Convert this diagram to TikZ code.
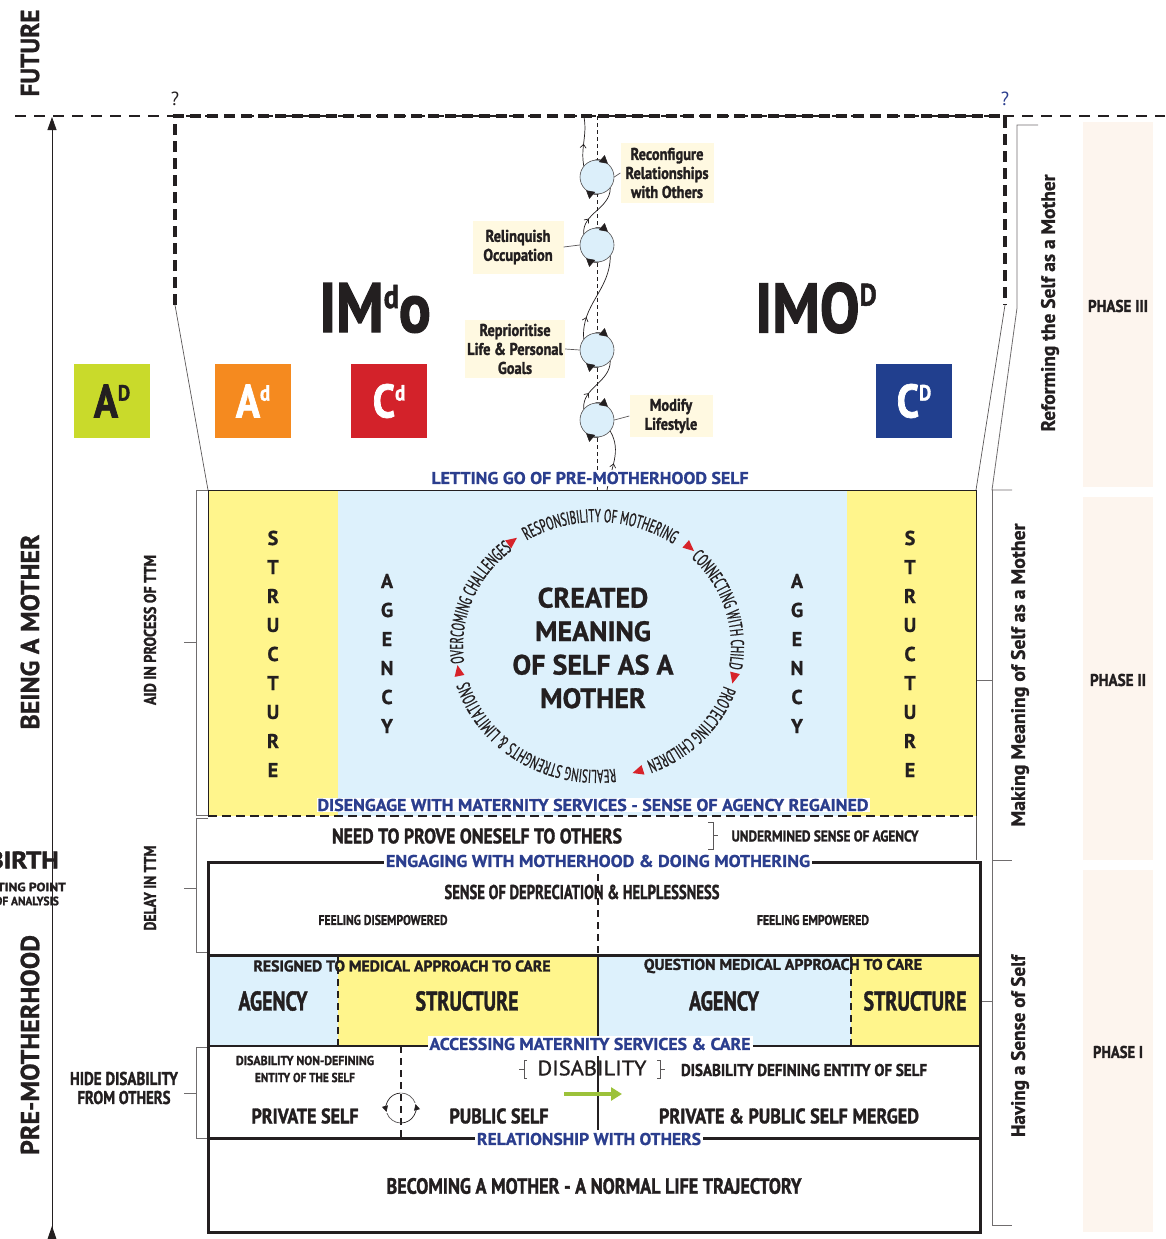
\documentclass[tikz,border=0pt]{standalone}
\usepackage{graphicx}
\usepackage{fontspec}
\setmainfont[BoldFeatures={FakeBold=1}]{PT Sans}
\newfontfamily\cnd[FakeStretch=0.85, BoldFeatures={FakeBold=1.5}]{PT Sans}
\newfontfamily\cndc[FakeStretch=0.58, FakeBold=0.9]{PT Sans}
\newfontfamily\med[FakeBold=1.2]{PT Sans}
\usetikzlibrary{arrows.meta,calc,decorations.text,decorations.markings}
\pgfdeclarelayer{bg}
\pgfsetlayers{bg,main}
\newcommand\fsz[1]{\fontsize{#1}{\fpeval{1.2*#1}}\selectfont}
\newcommand\fw[2]{\resizebox{#1pt}{\height}{#2}}
\newcommand\lettersq[2]{{\fsz{47}#1}\raisebox{17pt}{\fsz{22}#2}}

\definecolor{ylw}{HTML}{FFF58C}
\definecolor{lblue}{HTML}{DDF1FC}
\definecolor{dblue}{HTML}{2B3E8E}
\definecolor{peach}{HTML}{FDF5EE}
\definecolor{cream}{HTML}{FFF9E1}
\definecolor{cfill}{HTML}{DCEFFA}
\definecolor{lime}{HTML}{C9DA2B}
\definecolor{orng}{HTML}{F58A1F}
\definecolor{rd}{HTML}{D3222A}
\definecolor{navy}{HTML}{213F8E}
\definecolor{grn}{HTML}{9CC23A}
\definecolor{tri}{HTML}{D7232A}
\definecolor{ink}{HTML}{231F20}

\tikzset{
  cb/.style={font=\cnd\bfseries\fsz{#1}, text=ink, inner sep=0pt},
  hb/.style={font=\bfseries\fsz{#1}, text=ink, inner sep=0pt},
  lb/.style={font=\bfseries\fsz{#1}, text=dblue, fill=white, inner sep=2pt},
  sq/.style={minimum width=76, minimum height=74, inner sep=0pt, font=\cnd\bfseries},
  lbox/.style={fill=cream, font=\cnd\bfseries\fontsize{17}{19}\selectfont, align=center, inner sep=2pt, text=ink},
  spin/.style={circle, draw=ink!80, fill=cfill, minimum size=34, inner sep=0pt, line width=0.6},
  thinline/.style={ink!75, line width=0.7},
  bracketline/.style={ink!65, line width=0.8},
  heavy/.style={ink, line width=3},
  heavydash/.style={ink, line width=2.5, dash pattern=on 7 off 5},
  spiral/.style={ink, line width=0.7},
  midarrow/.style={postaction={decorate}, decoration={markings,
      mark=at position #1 with {\arrow{Straight Barb[length=3.5,width=6]}}}},
  arcword/.style={decorate, decoration={text along path, text align=center,
      text color=ink, text={|\cndc\fsz{18.5}|#1}}},
  spinhead/.style={ink, line width=0.6, -{Triangle[length=8,width=9]}},
  turnhead/.style={ink, line width=0.7, -{Triangle[length=6,width=6]}},
}

\begin{document}
\begin{tikzpicture}[x=1pt,y=1pt]
\useasboundingbox (0,0) rectangle (1165,-1239);
\clip (0,0) rectangle (1165,-1239);

% ---------- phase columns on the right ----------
\fill[peach] (1083,-122) rectangle (1153,-487);
\fill[peach] (1083,-497) rectangle (1153,-860);
\fill[peach] (1083,-870) rectangle (1153,-1232);
\node[cb=17] (ph3) at (1118,-306) {\fw{60}{PHASE III}};
\node[cb=17] (ph2) at (1118,-680) {\fw{56}{PHASE II}};
\node[cb=17] (ph1) at (1118,-1052) {\fw{50}{PHASE I}};

% ---------- future line and the open dashed frame ----------
\draw[ink, line width=2, dash pattern=on 11 off 8] (15,-116) -- (1165,-116);
\draw[ink, line width=3.2, dash pattern=on 11 off 6] (175,-305) -- (175,-116) -- (1005,-116) -- (1005,-305);
\draw[thinline] (175,-305) -- (208,-490);
\draw[thinline] (1005,-305) -- (976,-490);
\node[font=\fsz{19}, text=ink, inner sep=0pt] (q1) at (175,-99) {?};
\node[font=\fsz{19}, text=dblue, inner sep=0pt] (q2) at (1005,-99) {?};

% ---------- time axis ----------
\coordinate (tbot) at (52,-1239);
\coordinate (ttop) at (52,-117);
\draw[ink, line width=0.8, -{Triangle[length=13,width=9]}] (tbot) -- (ttop);
\fill[ink] (52,-1226) -- (47.5,-1239) -- (56.5,-1239) -- cycle;
\node[hb=26, rotate=90] (fut) at (30,-53) {\fw{87}{FUTURE}};
\node[hb=26, rotate=90] (bam) at (30,-632) {\fw{195}{BEING A MOTHER}};
\node[hb=26, rotate=90] (pmh) at (30,-1045) {\fw{220}{PRE-MOTHERHOOD}};
\node[cb=24, anchor=east] (birth) at (59,-860) {\fw{71}{BIRTH}};
\node[cb=12, anchor=east] (start1) at (66,-887) {\fw{98}{STARTING POINT}};
\node[cb=12, anchor=east] (start2) at (59,-901) {\fw{64}{OF ANALYSIS}};

% ---------- left brackets ----------
\draw[bracketline] (208,-490) -- (196,-490) -- (196,-815) -- (208,-815) (184,-642) -- (196,-642);
\draw[bracketline] (208,-818) -- (196,-818) -- (196,-952) -- (208,-952) (184,-888) -- (196,-888);
\draw[bracketline] (208,-1047) -- (196,-1047) -- (196,-1138) -- (208,-1138) (184,-1093) -- (196,-1093);
\node[cb=17, rotate=90] (aid) at (150,-630) {\fw{150}{AID IN PROCESS OF TTM}};
\node[cb=17, rotate=90] (delay) at (150,-888) {\fw{85}{DELAY IN TTM}};
\node[cb=18.5, align=center, font=\cnd\bfseries\fontsize{18.5}{19}\selectfont] (hide) at (124,-1088) {\fw{108}{HIDE DISABILITY}\\\fw{93}{FROM OTHERS}};

% ---------- right brackets ----------
\draw[bracketline] (1038,-125) -- (1017,-125) -- (1017,-308) -- (992,-490) -- (1012,-490);
\draw[bracketline] (992,-490) -- (992,-860) -- (1012,-860) (976,-680) -- (992,-680);
\draw[bracketline] (992,-860) -- (992,-1225) -- (1012,-1225) (980,-1001) -- (992,-1001);
\node[hb=19.5, rotate=90] (reform) at (1050,-303) {\fw{257}{Reforming the Self as a Mother}};
\node[hb=19.5, rotate=90] (making) at (1020,-675) {\fw{303}{Making Meaning of Self as a Mother}};
\node[hb=19.5, rotate=90] (having) at (1020,-1046) {\fw{182}{Having a Sense of Self}};

% ---------- coloured codes ----------
\node[sq, fill=lime, text=ink] (AD) at (112,-401) {\lettersq{A}{D}};
\node[sq, fill=orng, text=white] (Ad) at (253,-401) {\lettersq{A}{d}};
\node[sq, fill=rd, text=white] (Cd) at (389,-401) {\lettersq{C}{d}};
\node[sq, fill=navy, text=white] (CD) at (914,-401) {\lettersq{C}{D}};
\node[font=\cnd\bfseries, text=ink, inner sep=0pt] (imdo) at (375,-308) {\fsz{70}IM\raisebox{24pt}{\fsz{33}d}o};
\node[font=\cnd\bfseries, text=ink, inner sep=0pt] (imod) at (816,-308) {\fsz{70}IMO\raisebox{27pt}{\fsz{31}D}};

% ---------- spiral of change ----------
\draw[ink, line width=0.7, dash pattern=on 4 off 3] (597,-116) -- (597,-490);
\node[spin] (s1) at (597,-177) {};
\node[spin] (s2) at (597,-245) {};
\node[spin] (s3) at (597,-350) {};
\node[spin] (s4) at (597,-420) {};
\coordinate (sbot) at (607,-490);
\coordinate (stop) at (584,-117);
\begin{pgfonlayer}{bg}
\draw[spiral, midarrow=0.45] (sbot) to[out=80,in=-60] (s4.-40);
\draw[spiral, midarrow=0.3] (s4.140) to[out=95,in=-90] (s3.-40);
\draw[spiral, midarrow=0.25] (s3.140) to[out=95,in=-90] (s2.-40);
\draw[spiral, midarrow=0.3] (s2.140) to[out=95,in=-90] (s1.-40);
\draw[spiral, midarrow=0.45] (s1.140) to[out=100,in=-80] (stop);
\end{pgfonlayer}
\foreach \s in {s1,s2,s3,s4}{
  \draw[spinhead] (\s.95) arc[start angle=95, end angle=50, radius=17];
  \draw[spinhead] (\s.275) arc[start angle=275, end angle=230, radius=17];
}
\node[lbox, minimum width=93, minimum height=60] (r1) at (667,-173) {Reconfigure\\Relationships\\with Others};
\node[lbox, minimum width=91, minimum height=53] (r2) at (518,-247) {Relinquish\\Occupation};
\node[lbox, minimum width=100, minimum height=58] (r3) at (515,-349) {Reprioritise\\Life \& Personal\\Goals};
\node[lbox, minimum width=83, minimum height=42] (r4) at (671,-416) {Modify\\Lifestyle};
\draw[thinline] (s1.east) -- (r1.west);
\draw[thinline] (r2.east) -- (s2.west);
\draw[thinline] (r3.east) -- (s3.west);
\draw[thinline] (s4.east) -- (r4.west);

% ---------- phase II block ----------
\fill[ylw] (208,-490) rectangle (338,-816);
\fill[lblue] (338,-490) rectangle (847,-816);
\fill[ylw] (847,-490) rectangle (976,-816);
\draw[ink, line width=0.8] (208,-816) -- (208,-490) -- (976,-490) -- (976,-816);
\draw[ink, line width=2.5, dash pattern=on 9 off 5] (208,-816) -- (976,-816);
\foreach \ch [count=\i from 0] in {S,T,R,U,C,T,U,R,E}{
  \node[hb=20] (sl\i) at (273,-538-29*\i) {\ch};
  \node[hb=20] (sr\i) at (910,-538-29*\i) {\ch};
}
\foreach \ch [count=\i from 0] in {A,G,E,N,C,Y}{
  \node[hb=20] (al\i) at (387,-581-29*\i) {\ch};
  \node[hb=20] (ar\i) at (797,-581-29*\i) {\ch};
}
\node[font=\bfseries\fontsize{28}{33.5}\selectfont, align=center, text=ink] (meaning) at (593,-648) {CREATED\\MEANING\\OF SELF AS A\\MOTHER};
\coordinate (cc) at (597,-646);
\path[arcword={RESPONSIBILITY OF MOTHERING}] ($(cc)+(124:134 and 124)$) arc[start angle=124, end angle=53, x radius=134, y radius=124];
\path[arcword={CONNECTING WITH CHILD}] ($(cc)+(46:134 and 124)$) arc[start angle=46, end angle=-11, x radius=134, y radius=124];
\path[arcword={PROTECTING CHILDREN}] ($(cc)+(-17:134 and 124)$) arc[start angle=-17, end angle=-70, x radius=134, y radius=124];
\path[arcword={REALISING STRENGHTS {\&} LIMITATIONS}] ($(cc)+(-77:134 and 124)$) arc[start angle=-77, end angle=-169, x radius=134, y radius=124];
\path[arcword={OVERCOMING CHALLENGES}] ($(cc)+(187:134 and 124)$) arc[start angle=187, end angle=130, x radius=134, y radius=124];
\foreach \t in {127,49,-14,-73,191}{
  \fill[tri, shift={($(cc)+(\t:141 and 131)$)}, rotate=\t-90] (6,0) -- (-5,5) -- (-5,-5) -- cycle;
}
\node[lb=17] (letgo) at (590,-478) {\fw{317}{LETTING GO OF PRE-MOTHERHOOD SELF}};
\node[lb=17, inner sep=1pt] (diseng) at (593,-805) {\fw{551}{DISENGAGE WITH MATERNITY SERVICES - SENSE OF AGENCY REGAINED}};

% ---------- transition row ----------
\draw[thinline] (976,-816) -- (976,-860);
\node[cb=21] (need) at (477,-836) {\fw{290}{NEED TO PROVE ONESELF TO OTHERS}};
\draw[thinline] (708,-822) -- (713,-822) -- (713,-849) -- (708,-849) (713,-835.5) -- (718,-835.5);
\node[cb=15.5] (under) at (825,-836) {\fw{187}{UNDERMINED SENSE OF AGENCY}};

% ---------- phase I block ----------
\fill[lblue] (208,-955) rectangle (338,-1046);
\fill[ylw] (338,-955) rectangle (598,-1046);
\fill[lblue] (598,-955) rectangle (851,-1046);
\fill[ylw] (851,-955) rectangle (980,-1046);
\node[cb=20] (dep) at (582,-892) {\fw{275}{SENSE OF DEPRECIATION \& HELPLESSNESS}};
\node[cb=14] (fdis) at (383,-920) {\fw{129}{FEELING DISEMPOWERED}};
\node[cb=14] (femp) at (813,-920) {\fw{112}{FEELING EMPOWERED}};
\node[cb=15.5] (resig) at (402,-966) {\fw{297}{RESIGNED TO MEDICAL APPROACH TO CARE}};
\node[cb=15.5] (quest) at (783,-966) {\fw{278}{QUESTION MEDICAL APPROACH TO CARE}};
\node[cb=27] (ag1) at (273,-1001) {\fw{69}{AGENCY}};
\node[cb=27] (st1) at (467,-1001) {\fw{103}{STRUCTURE}};
\node[cb=27] (ag2) at (724,-1001) {\fw{70}{AGENCY}};
\node[cb=27] (st2) at (915,-1001) {\fw{103}{STRUCTURE}};
\draw[heavy] (208,-862) rectangle (980,-1232);
\draw[heavy] (208,-955) -- (980,-955);
\draw[ink, line width=1.5] (208,-1046) -- (980,-1046);
\draw[heavy] (208,-1138) -- (980,-1138);
\draw[heavydash] (598,-862) -- (598,-955);
\draw[ink, line width=2.5] (598,-955) -- (598,-1046);
\draw[heavydash] (338,-955) -- (338,-1046);
\draw[heavydash] (851,-955) -- (851,-1046);
\draw[heavydash] (401,-1046) -- (401,-1138);
\draw[ink, line width=2.5] (598,-1056) -- (598,-1130);
\node[cb=13, font=\cnd\bfseries\fontsize{13}{17}\selectfont, align=center] (ndef) at (305,-1069) {\fw{138}{DISABILITY NON-DEFINING}\\\fw{100}{ENTITY OF THE SELF}};
\node[cb=21] (priv) at (305,-1116) {\fw{107}{PRIVATE SELF}};
\node[cb=21] (pub) at (499,-1116) {\fw{99}{PUBLIC SELF}};
\node[font=\med\fsz{21}, text=ink, inner sep=0pt] (dis) at (592,-1068) {\fw{109}{DISABILITY}};
\draw[thinline] (527,-1060) -- (524,-1060) -- (524,-1078) -- (527,-1078) (524,-1069) -- (519,-1069);
\draw[thinline] (657,-1060) -- (660,-1060) -- (660,-1078) -- (657,-1078) (660,-1069) -- (665,-1069);
\node[cb=17] (ddef) at (804,-1070) {\fw{246}{DISABILITY DEFINING ENTITY OF SELF}};
\node[cb=21] (merged) at (789,-1116) {\fw{260}{PRIVATE \& PUBLIC SELF MERGED}};
\node[cb=22] (norm) at (594,-1186) {\fw{415}{BECOMING A MOTHER - A NORMAL LIFE TRAJECTORY}};
% two-way turn between private and public self
\coordinate (rot) at (401,-1108);
\draw[turnhead] ($(rot)+(92:15)$) arc[start angle=92, end angle=195, radius=15];
\draw[thinline] ($(rot)+(200:15)$) arc[start angle=200, end angle=268, radius=15];
\draw[turnhead] ($(rot)+(272:15)$) arc[start angle=272, end angle=375, radius=15];
\draw[thinline] ($(rot)+(380:15)$) arc[start angle=380, end angle=448, radius=15];
\coordinate (ga) at (564,-1094);
\coordinate (gb) at (622,-1094);
\draw[grn, line width=3.5, -{Triangle[length=11,width=13]}] (ga) -- (gb);
\node[lb=17] (engage) at (598,-861) {\fw{424}{ENGAGING WITH MOTHERHOOD \& DOING MOTHERING}};
\node[lb=17] (access) at (590,-1044) {\fw{321}{ACCESSING MATERNITY SERVICES \& CARE}};
\node[lb=17] (relat) at (589,-1139) {\fw{224}{RELATIONSHIP WITH OTHERS}};
\end{tikzpicture}
\end{document}
